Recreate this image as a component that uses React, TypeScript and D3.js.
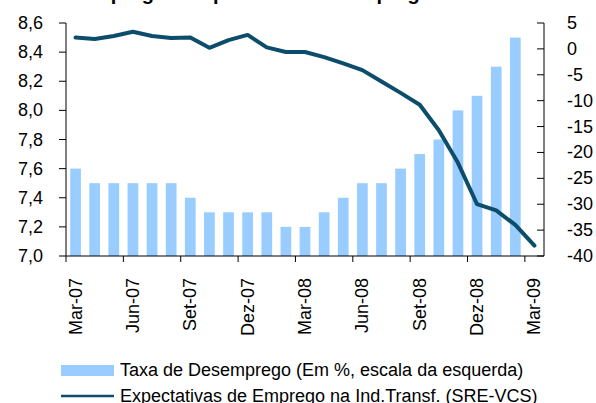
import * as d3 from "d3";

// months, Mar-07 .. Mar-09
const months = [
  "Mar-07", "Abr-07", "Mai-07", "Jun-07", "Jul-07", "Ago-07", "Set-07", "Out-07", "Nov-07",
  "Dez-07", "Jan-08", "Fev-08", "Mar-08", "Abr-08", "Mai-08", "Jun-08", "Jul-08", "Ago-08",
  "Set-08", "Out-08", "Nov-08", "Dez-08", "Jan-09", "Fev-09", "Mar-09",
];

// unemployment rate (left scale), no value yet for Mar-09
const desemprego = [
  7.6, 7.5, 7.5, 7.5, 7.5, 7.5, 7.4, 7.3, 7.3, 7.3, 7.3, 7.2, 7.2,
  7.3, 7.4, 7.5, 7.5, 7.6, 7.7, 7.8, 8.0, 8.1, 8.3, 8.5, null,
];

// employment expectations (right scale)
const expectativas = [
  2.2, 1.9, 2.5, 3.3, 2.5, 2.1, 2.2, 0.2, 1.7, 2.7, 0.3, -0.6, -0.6,
  -1.6, -2.8, -4.1, -6.3, -8.5, -10.8, -15.7, -22, -30, -31.2, -34, -38,
];

const leftTicks = [7.0, 7.2, 7.4, 7.6, 7.8, 8.0, 8.2, 8.4, 8.6];
const rightTicks = [5, 0, -5, -10, -15, -20, -25, -30, -35, -40];

const width = 596;
const height = 403;
const margin = { top: 23, right: 52, bottom: 147, left: 66 };
const font = "'Liberation Sans', Arial, sans-serif";

export default function App() {
  const x0 = margin.left;
  const x1 = width - margin.right;
  const y0 = height - margin.bottom;
  const y1 = margin.top;

  const x = d3.scaleBand<string>().domain(months).range([x0, x1]).paddingInner(0.44).paddingOuter(0.22);
  const step = x.step();
  const yL = d3.scaleLinear().domain([7.0, 8.6]).range([y0, y1]);
  const yR = d3.scaleLinear().domain([-40, 5]).range([y0, y1]);

  const cx = (m: string) => (x(m) ?? 0) + x.bandwidth() / 2;

  const line = d3
    .line<number>()
    .x((_, i) => cx(months[i]))
    .y((d) => yR(d));

  const lineColor = "#0d4d6c";
  const barColor = "#99ccff";

  return (
    <svg
      width={width}
      height={height}
      style={{ position: "absolute", left: 0, top: 0 }}
      fontFamily={font}
    >
      <rect width={width} height={height} fill="#fff" />

      {/* title, mostly cut off above the frame */}
      <text x={width / 2} y={-0.5} textAnchor="middle" fontSize={20} fontWeight={700} fill="#000">
        Desemprego e Expectativas de Emprego na Indústria
      </text>

      {/* bars */}
      {desemprego.map((v, i) =>
        v == null ? null : (
          <rect
            key={months[i]}
            x={x(months[i])}
            y={yL(v)}
            width={x.bandwidth()}
            height={y0 - yL(v)}
            fill={barColor}
          />
        )
      )}

      {/* line */}
      <path
        d={line(expectativas) ?? ""}
        fill="none"
        stroke={lineColor}
        strokeWidth={4}
        strokeLinejoin="round"
        strokeLinecap="round"
      />

      {/* left axis */}
      <line x1={x0} x2={x0} y1={y1} y2={y0} stroke="#000" />
      {leftTicks.map((t) => (
        <g key={t}>
          <line x1={x0 - 7} x2={x0} y1={yL(t)} y2={yL(t)} stroke="#000" />
          <text x={43} y={yL(t)} textAnchor="end" dominantBaseline="central" fontSize={18}>
            {t.toFixed(1).replace(".", ",")}
          </text>
        </g>
      ))}

      {/* right axis */}
      <line x1={x1} x2={x1} y1={y1} y2={y0} stroke="#000" />
      {rightTicks.map((t) => (
        <g key={t}>
          <line x1={x1 - 7} x2={x1} y1={yR(t)} y2={yR(t)} stroke="#000" />
          <text x={567} y={yR(t)} textAnchor="start" dominantBaseline="central" fontSize={18}>
            {t}
          </text>
        </g>
      ))}

      {/* bottom axis */}
      <line x1={x0} x2={x1} y1={y0} y2={y0} stroke="#000" />
      {months.map((m, i) =>
        i % 3 === 0 ? (
          <g key={m}>
            <line x1={x0 + i * step} x2={x0 + i * step} y1={y0} y2={y0 + 6} stroke="#000" />
            <text
              transform={`translate(${cx(m)},${y0 + 22}) rotate(-90)`}
              textAnchor="end"
              dominantBaseline="central"
              fontSize={18}
            >
              {m}
            </text>
          </g>
        ) : null
      )}

      {/* legend */}
      <rect x={61} y={365} width={53} height={11} fill={barColor} />
      <text x={120} y={376} fontSize={18}>
        Taxa de Desemprego (Em %, escala da esquerda)
      </text>
      <line x1={61} x2={114} y1={396} y2={396} stroke={lineColor} strokeWidth={2.5} />
      <text x={120} y={402} fontSize={18}>
        Expectativas de Emprego na Ind.Transf. (SRE-VCS)
      </text>
    </svg>
  );
}
